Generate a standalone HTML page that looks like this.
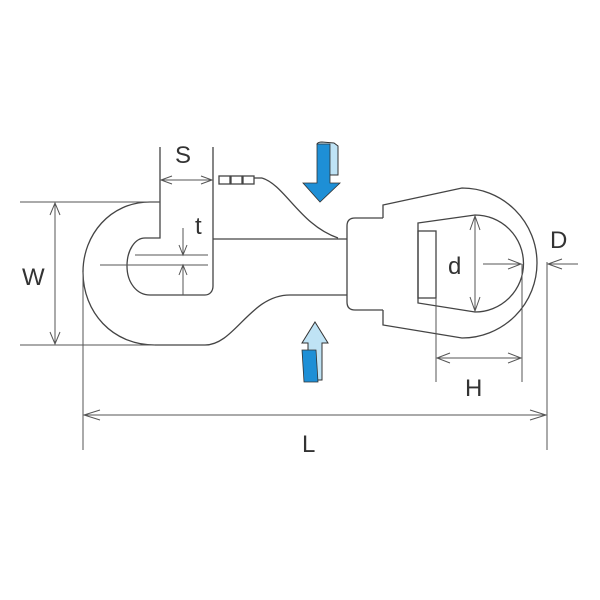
<!DOCTYPE html>
<html><head><style>
html,body{margin:0;padding:0;background:#fff;}
svg{display:block;}
text{font-family:"Liberation Sans",sans-serif;fill:#333;}
</style></head><body>
<svg width="600" height="600" viewBox="0 0 600 600" xmlns="http://www.w3.org/2000/svg">
<rect width="600" height="600" fill="#fff"/>
<g fill="none" stroke="#444" stroke-width="1.3">
<!-- hook outer -->
<path d="M160,202 L150,202 C110,202 83,235 83,272 C83,312 112,345 155,345 L205,345 C235,345 250,295 290,295 L347,295"/>
<!-- gate / slot -->
<path d="M160,147 L160,238 L145,238 C135,238 127,250 127,266 C127,283 137,295 150,295 L205,295 C210,295 213,291 213,286 L213,147"/>
<line x1="213" y1="239" x2="347" y2="239"/>
<!-- gate spring -->
<path d="M262,178 C285,185 300,225 338,238"/>
<rect x="219" y="176" width="11" height="8"/><rect x="231" y="176" width="11" height="8"/><rect x="243" y="176" width="11" height="8"/>
<line x1="254" y1="178" x2="262" y2="178"/>
<!-- swivel -->
<path d="M383,218 L355,218 Q347,218 347,226 L347,302 Q347,310 355,310 L383,310"/>
<path d="M383,218 L383,205 L462,188 A75,75 0 1 1 462,338 L383,325 L383,310"/>
<!-- inner hole -->
<path d="M418,223 L475,215 A48,48 0 0 1 475,312 L418,303 Z"/>
<rect x="418" y="231" width="18" height="67"/>
</g>
<g fill="none" stroke="#555" stroke-width="1">
<!-- W -->
<line x1="20" y1="202" x2="160" y2="202"/><line x1="20" y1="345" x2="155" y2="345"/>
<line x1="55" y1="203" x2="55" y2="344"/>
<path d="M50,215 L55,203 L60,215 M50,332 L55,344 L60,332"/>
<!-- L -->
<line x1="83" y1="272" x2="83" y2="450"/><line x1="547" y1="262" x2="547" y2="450"/>
<line x1="84" y1="415" x2="546" y2="415"/>
<path d="M100,410 L84,415 L100,420 M530,410 L546,415 L530,420"/>
<!-- S -->
<line x1="161" y1="180" x2="212" y2="180"/>
<path d="M172,176 L161,180 L172,184 M201,176 L212,180 L201,184"/>
<!-- t -->
<line x1="100" y1="265" x2="208" y2="265"/><line x1="135" y1="255" x2="208" y2="255"/>
<line x1="183" y1="228" x2="183" y2="255"/><line x1="183" y1="265" x2="183" y2="295"/>
<path d="M179,245 L183,255 L187,245 M179,275 L183,265 L187,275"/>
<!-- d -->
<line x1="475" y1="216" x2="475" y2="311"/>
<path d="M470,230 L475,216 L480,230 M470,297 L475,311 L480,297"/>
<line x1="483" y1="264" x2="521" y2="264"/><path d="M508,259 L521,264 L508,269"/>
<!-- H -->
<line x1="436" y1="298" x2="436" y2="382"/><line x1="522" y1="264" x2="522" y2="382"/>
<line x1="437" y1="358" x2="521" y2="358"/>
<path d="M450,353 L437,358 L450,363 M508,353 L521,358 L508,363"/>
<!-- D -->
<line x1="548" y1="264" x2="578" y2="264"/><path d="M562,259 L548,264 L562,269"/>
</g>
<!-- blue arrows -->
<path d="M317,144 Q318,142 322,142 L334,143 L338,146 L338,175 L330,175 Z" fill="#bfe3f5" stroke="#333" stroke-width="1"/>
<path d="M317,144 L330,144 L330,183 L340,183 L320,202 L303,183 L317,183 Z" fill="#1e8fd6" stroke="#333" stroke-width="0.8"/>
<path d="M315,322 L328,343 L322,343 L322,380 L308,380 L308,343 L302,343 Z" fill="#bfe3f5" stroke="#333" stroke-width="1"/>
<path d="M302,350 L316,350 L318,382 L304,382 Z" fill="#1e8fd6" stroke="#333" stroke-width="0.8"/>
<!-- labels -->
<text x="175" y="163" font-size="24">S</text>
<text x="195" y="234" font-size="24">t</text>
<text x="22" y="285" font-size="24">W</text>
<text x="448" y="274" font-size="24">d</text>
<text x="550" y="248" font-size="24">D</text>
<text x="465" y="396" font-size="24">H</text>
<text x="302" y="452" font-size="24">L</text>
</svg>
</body></html>
